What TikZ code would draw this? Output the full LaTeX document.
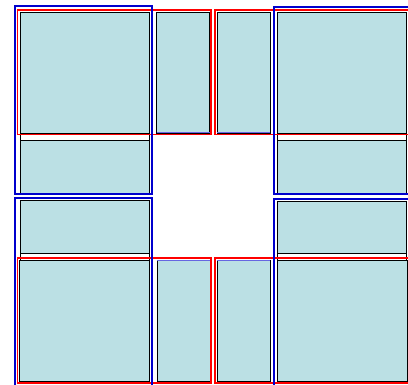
\documentclass[tikz,border=0pt]{standalone}
\usepackage{xcolor}
\usepackage{tikz}
\definecolor{cellfill}{RGB}{187,224,228}
\definecolor{frblue}{RGB}{0,0,205}
\tikzset{
  cell/.style={draw=black, line width=0.8pt, fill=cellfill},
  strip/.style={draw=black, line width=0.8pt, fill=white},
  redframe/.style={draw=red, line width=1.3pt},
  blueframe/.style={draw=frblue, line width=2pt},
  edgeblue/.style={draw=frblue!60, line width=1pt}
}
\begin{document}
\begin{tikzpicture}[x=1pt, y=-1pt]
  \useasboundingbox (0,0) rectangle (408,385);
  \clip (0,0) rectangle (408,385);
  % strips between the side blocks
  \foreach \xa/\xb in {20/149, 277/406}{
    \draw[strip] (\xa,133) rectangle (\xb,140);
    \draw[strip] (\xa,253) rectangle (\xb,260);
  }
  % cells
  \foreach \xa/\ya/\xb/\yb in {20/12/149/133, 156/12/209/133, 217/12/270/133, 277/12/406/133,
      19/260/149/381, 157/260/210/381, 217/260/270/381, 277/260/407/381,
      20/140/149/193, 20/200/149/253, 277/140/406/193, 277/201/406/253}
    \draw[cell] (\xa,\ya) rectangle (\xb,\yb);
  % blue edges of the narrow cells
  \foreach \xa/\xb in {157/210, 217/270}{
    \draw[edgeblue] (\xa,133) -- (\xb,133);
    \draw[edgeblue] (\xa,260.5) -- (\xb,260.5);
  }
  % red frames
  \draw[redframe] (17.5,10) rectangle (211,134.5);
  \draw[redframe] (215,10) rectangle (410,134.5);
  \draw[redframe] (17.5,258) rectangle (211,383);
  \draw[redframe] (215,258) rectangle (410,383);
  % blue frames
  \draw[blueframe] (15,6) rectangle (152,194);
  \draw[blueframe] (274,7) rectangle (412,194);
  \draw[blueframe] (15,198) rectangle (152,390);
  \draw[blueframe] (274,199) rectangle (412,390);
\end{tikzpicture}
\end{document}
